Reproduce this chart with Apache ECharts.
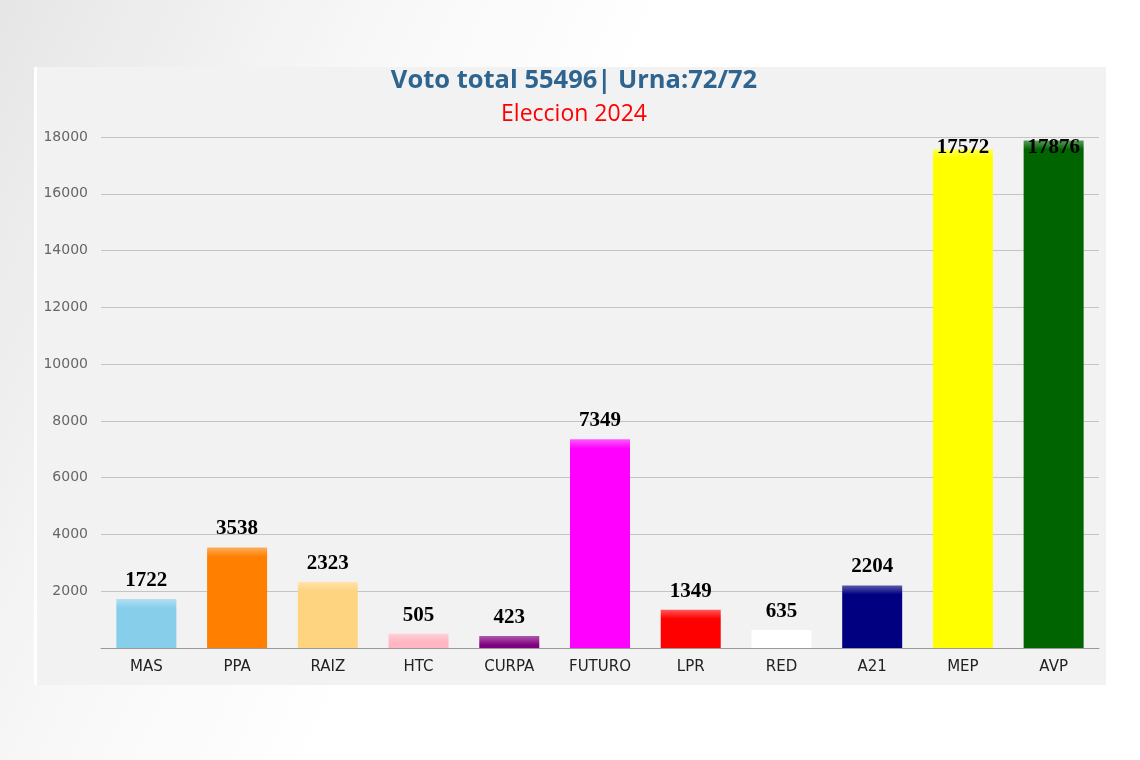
<!DOCTYPE html>
<html>
<head>
<meta charset="utf-8">
<script src="https://cdn.jsdelivr.net/npm/echarts@6/dist/echarts.min.js"></script>
<style>
  html, body { margin: 0; padding: 0; }
  body {
    width: 1140px; height: 760px; overflow: hidden;
    background: linear-gradient(115deg, #e6e6e6 0%, #f7f7f7 25%, #ffffff 45%, #ffffff 100%);
  }
  #chart { width: 1140px; height: 760px; }
</style>
</head>
<body>
<div id="chart"></div>
<script>
// datos
const partidos = ['MAS', 'PPA', 'RAIZ', 'HTC', 'CURPA', 'FUTURO', 'LPR', 'RED', 'A21', 'MEP', 'AVP']
const votos = [1722, 3538, 2323, 505, 423, 7349, 1349, 635, 2204, 17572, 17876]
const colores = ['#87ceeb', '#ff8000', '#ffd480', '#ffb6c1', '#800080', '#ff00ff', '#ff0000', '#ffffff', '#000080', '#ffff00', '#006400']
const yTicks = [0, 2000, 4000, 6000, 8000, 10000, 12000, 14000, 16000, 18000]

const titulo = 'Voto total 55496| Urna:72/72'
const subtitulo = 'Eleccion 2024'

const chart = echarts.init(document.getElementById('chart'))

const labelFont = 21
const labelDist = 8

const option = {
  backgroundColor: 'transparent',
  animation: false,
  graphic: [
    {
      type: 'rect',
      shape: { x: 34, y: 67, width: 3, height: 618 },
      style: { fill: '#ffffff' },
      silent: true,
      z: -10
    },
    {
      type: 'rect',
      shape: { x: 37, y: 67, width: 1069, height: 618 },
      style: { fill: '#f2f2f2' },
      silent: true,
      z: -10
    }
  ],
  title: [
    {
      text: titulo,
      left: 569,
      top: 63,
      textAlign: 'center',
      textStyle: { fontFamily: 'Open Sans', fontWeight: 'bold', fontSize: 25.5, color: '#2e6590' }
    },
    {
      text: subtitulo,
      left: 569,
      top: 98,
      textAlign: 'center',
      textStyle: { fontFamily: 'Open Sans', fontWeight: 'normal', fontSize: 23, color: '#ff0000' }
    }
  ],
  grid: { left: 101, right: 41, top: 137, bottom: 112 },
  xAxis: {
    type: 'category',
    data: partidos,
    axisLine: { lineStyle: { color: '#999999', width: 1 } },
    axisTick: { alignWithLabel: true, length: 5, lineStyle: { color: '#aaaaaa' } },
    axisLabel: { margin: 12, fontFamily: 'DejaVu Sans', fontSize: 15, color: '#222222' }
  },
  yAxis: {
    type: 'value',
    min: yTicks[0],
    max: yTicks[yTicks.length - 1],
    interval: yTicks[1] - yTicks[0],
    axisLine: { show: false },
    axisTick: { show: false },
    splitLine: { lineStyle: { color: '#c4c4c4', width: 1 } },
    axisLabel: {
      margin: 13,
      fontFamily: 'DejaVu Sans',
      fontSize: 14,
      color: '#666666',
      formatter: v => (v === 0 ? '' : String(v))
    }
  },
  series: [
    {
      type: 'bar',
      barWidth: 60,
      data: votos,
      label: {
        show: true,
        position: 'top',
        distance: labelDist,
        fontFamily: 'Liberation Serif',
        fontWeight: 'bold',
        fontSize: labelFont,
        color: '#000000'
      }
    }
  ]
}

chart.setOption(option)

// brillo arriba de cada barra y etiquetas que no caben arriba quedan dentro
const topPx = chart.convertToPixel({ yAxisIndex: 0 }, yTicks[yTicks.length - 1])
const basePx = chart.convertToPixel({ yAxisIndex: 0 }, 0)
const data = votos.map((v, i) => {
  const barTop = chart.convertToPixel({ yAxisIndex: 0 }, v)
  const h = Math.max(basePx - barTop, 1)
  const c = colores[i]
  const g1 = Math.min(4 / h, 0.5)
  const g2 = Math.min(9 / h, 0.9)
  const item = {
    value: v,
    itemStyle: {
      color: new echarts.graphic.LinearGradient(0, 0, 0, 1, [
        { offset: 0, color: echarts.color.lift(c, 0.35) },
        { offset: g1, color: echarts.color.lift(c, 0.2) },
        { offset: g2, color: c },
        { offset: 1, color: c }
      ])
    }
  }
  if (barTop - labelDist - labelFont < topPx) {
    item.label = { position: 'insideTop', distance: topPx - barTop }
  }
  return item
})
chart.setOption({ series: [{ data: data }] })
</script>
</body>
</html>
